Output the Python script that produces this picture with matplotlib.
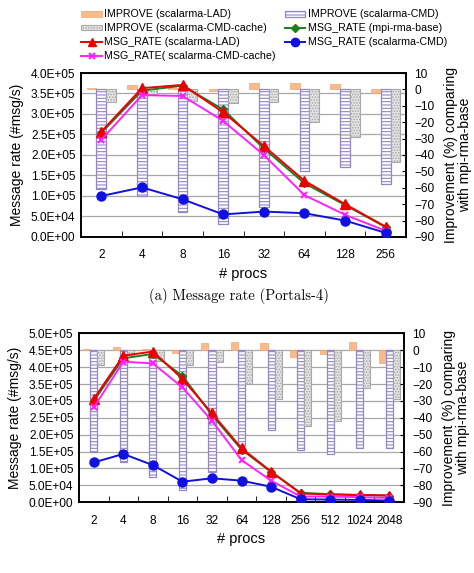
import numpy as np
import matplotlib
matplotlib.use("Agg")
import matplotlib.pyplot as plt
from matplotlib.patches import Patch
from matplotlib.lines import Line2D

plt.rcParams['font.family'] = ['Liberation Sans', 'DejaVu Sans']
plt.rcParams['hatch.linewidth'] = 0.8

# ====== data: (a) Portals-4 ======
procs_a = ['2', '4', '8', '16', '32', '64', '128', '256']
imp_lad_a = [0.8, 2.5, 1.0, -1.0, 3.7, 4.0, 3.5, -2.2]
imp_cmd_a = [-61, -65, -75, -82, -72, -49.5, -47.5, -57.5]
imp_cache_a = [-7.5, -3, -7, -8.5, -7.5, -20, -29, -44]
rate_base_a = [2.54e5, 3.57e5, 3.69e5, 3.11e5, 2.16e5, 1.31e5, 0.78e5, 0.24e5]
rate_lad_a = [2.57e5, 3.63e5, 3.71e5, 3.04e5, 2.22e5, 1.37e5, 0.80e5, 0.25e5]
rate_cmd_a = [1.00e5, 1.21e5, 0.92e5, 0.55e5, 0.62e5, 0.58e5, 0.40e5, 0.10e5]
rate_cache_a = [2.37e5, 3.46e5, 3.44e5, 2.83e5, 2.00e5, 1.02e5, 0.54e5, 0.15e5]

# ====== data: (b) ======
procs_b = ['2', '4', '8', '16', '32', '64', '128', '256', '512', '1024', '2048']
imp_lad_b = [1.0, 2.0, 1.0, -1.5, 4.0, 4.7, 4.0, -4.0, -2.2, 4.7, -7.5]
imp_cmd_b = [-60, -66, -75, -83, -72, -56.5, -47, -59, -61.4, -58, -58]
imp_cache_b = [-9, -3, -6.5, -9, -7, -19.8, -28.7, -44.8, -41.6, -22.4, -28.7]
rate_base_b = [3.00e5, 4.26e5, 4.39e5, 3.74e5, 2.58e5, 1.56e5, 0.90e5, 0.28e5, 0.24e5, 0.21e5, 0.20e5]
rate_lad_b = [3.06e5, 4.34e5, 4.46e5, 3.65e5, 2.63e5, 1.60e5, 0.91e5, 0.26e5, 0.23e5, 0.22e5, 0.20e5]
rate_cmd_b = [1.18e5, 1.43e5, 1.10e5, 0.61e5, 0.71e5, 0.64e5, 0.46e5, 0.09e5, 0.08e5, 0.07e5, 0.05e5]
rate_cache_b = [2.81e5, 4.16e5, 4.11e5, 3.40e5, 2.41e5, 1.25e5, 0.64e5, 0.17e5, 0.17e5, 0.15e5, 0.13e5]

C_LAD = "#f9bb8c"
C_LAD_E = "#f2a56c"
C_CMD = "#9484c8"
C_CACHE = "#e4e4e4"
C_CACHE_E = "#a8a8a8"
C_BASE = "#1e7d1e"
C_RED = "#ee0000"
C_BLUE = "#1010e0"
C_MAG = "#ff22ff"

TICK_FS = 8.6
LABEL_FS = 10


def draw_panel(rect, procs, lad, cmd, cache, base, rlad, rcmd, rcache, ymax, ystep):
    n = len(procs)
    x = np.arange(n)
    ax = fig.add_axes(rect)
    ax2 = ax.twinx()
    ax3 = fig.add_axes(rect, sharex=ax, sharey=ax)
    ax3.patch.set_visible(False)
    ax3.axis("off")
    ax2.set_zorder(ax.get_zorder() + 1)
    ax3.set_zorder(ax2.get_zorder() + 1)
    ax2.patch.set_visible(False)

    w = 0.24
    ax2.bar(x - w, lad, w, color=C_LAD, edgecolor=C_LAD_E, linewidth=0.5)
    ax2.bar(x, cmd, w, color="white", edgecolor=C_CMD, hatch="-----", linewidth=0.9)
    ax2.bar(x + w, cache, w, color=C_CACHE, edgecolor=C_CACHE_E, hatch="......", linewidth=0.8)
    ax2.set_ylim(-90, 10)
    ax2.set_yticks(np.arange(-90, 11, 10))
    ax2.tick_params(axis="y", direction="in", length=3, labelsize=TICK_FS, pad=6)
    ax2.set_ylabel("Improvement (%) comparing\nwith mpi-rma-base", fontsize=LABEL_FS,
                   linespacing=1.0, labelpad=7)

    ax3.plot(x, base, "-D", color=C_BASE, markersize=4, lw=1.4)
    ax3.plot(x, rlad, "-^", color=C_RED, markersize=6.5, lw=1.4)
    ax3.plot(x, rcache, "-x", color=C_MAG, markersize=5, mew=1.5, lw=1.4)
    ax3.plot(x, rcmd, "-o", color=C_BLUE, markersize=6.5, lw=1.4)

    ax.set_ylim(0, ymax)
    ax.set_xlim(-0.5, n - 0.5)
    yt = np.arange(0, ymax + 1, ystep)
    ax.set_yticks(yt)
    ax.set_yticklabels([f"{v:.1E}" for v in yt])
    ax.set_xticks(x)
    ax.set_xticklabels(procs)
    ax.set_xticks(np.arange(-0.5, n, 1.0), minor=True)
    ax.tick_params(axis="x", which="major", length=0, labelsize=TICK_FS, pad=9)
    ax.tick_params(axis="x", which="minor", direction="in", length=4, top=False)
    ax.tick_params(axis="y", length=0, labelsize=TICK_FS, pad=4)
    ax.yaxis.grid(True, color="#a8a8a8", lw=0.9)
    ax.set_axisbelow(True)
    ax.set_xlabel("# procs", fontsize=10.5, labelpad=4)
    ax.set_ylabel("Message rate (#msg/s)", fontsize=LABEL_FS, labelpad=5)
    for a in (ax, ax2):
        for s in a.spines.values():
            s.set_linewidth(1.2)
    return ax


fig = plt.figure(figsize=(4.74, 5.73), dpi=100)

draw_panel([0.1709, 0.5864, 0.6857, 0.2862], procs_a, imp_lad_a, imp_cmd_a, imp_cache_a,
           rate_base_a, rate_lad_a, rate_cmd_a, rate_cache_a, 4.0e5, 0.5e5)
draw_panel([0.1667, 0.1234, 0.6857, 0.2949], procs_b, imp_lad_b, imp_cmd_b, imp_cache_b,
           rate_base_b, rate_lad_b, rate_cmd_b, rate_cache_b, 5.0e5, 0.5e5)

fig.text(0.505, 1 - 296 / 573, "(a) Message rate (Portals-4)", family="cmr10",
         fontsize=10.5, ha="center", va="center")

handles = [
    Patch(facecolor=C_LAD, edgecolor=C_LAD_E, linewidth=0.5),
    Patch(facecolor=C_CACHE, edgecolor=C_CACHE_E, hatch="......", linewidth=0.8),
    Line2D([], [], color=C_RED, marker="^", markersize=6, lw=1.4),
    Line2D([], [], color=C_MAG, marker="x", markersize=5, mew=1.5, lw=1.4),
    Patch(facecolor="white", edgecolor=C_CMD, hatch="-----", linewidth=0.9),
    Line2D([], [], color=C_BASE, marker="D", markersize=4, lw=1.4),
    Line2D([], [], color=C_BLUE, marker="o", markersize=6, lw=1.4),
]
labels = [
    "IMPROVE (scalarma-LAD)",
    "IMPROVE (scalarma-CMD-cache)",
    "MSG_RATE (scalarma-LAD)",
    "MSG_RATE( scalarma-CMD-cache)",
    "IMPROVE (scalarma-CMD)",
    "MSG_RATE (mpi-rma-base)",
    "MSG_RATE (scalarma-CMD)",
]
fig.legend(handles, labels, loc="upper left", bbox_to_anchor=(74 / 474, 1 - 2 / 573),
           ncol=2, frameon=False, fontsize=7.7, handlelength=1.9, handleheight=0.45,
           handletextpad=0.2, labelspacing=0.36, columnspacing=0.9, borderpad=0.2)

plt.savefig("out.png", dpi=100)
